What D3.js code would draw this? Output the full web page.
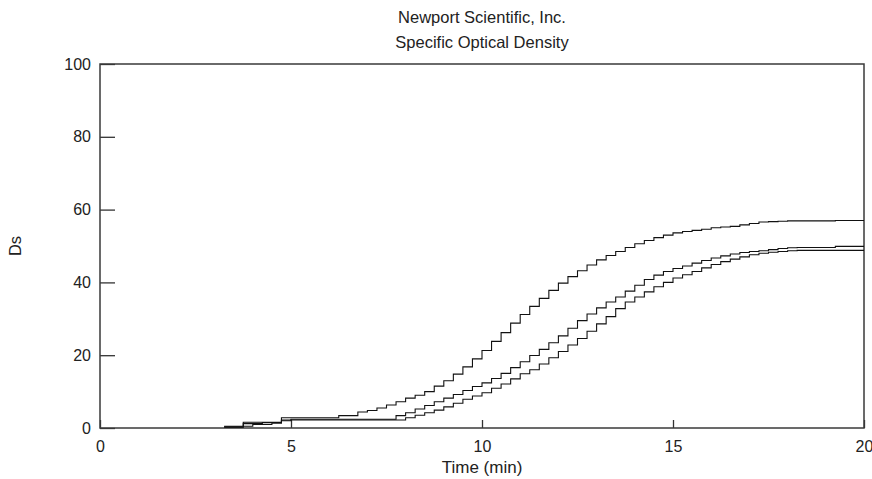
<!DOCTYPE html>
<html>
<head>
<meta charset="utf-8">
<script src="https://cdn.jsdelivr.net/npm/d3@7"></script>
<style>
  body { margin: 0; background: #fff; }
  text { font-family: "Liberation Sans", Arial, sans-serif; fill: #222; }
</style>
</head>
<body>
<script>
// chart size
var width = 872;
var height = 479;
var margin = {left: 100, right: 8, top: 64, bottom: 51};

// titles
var titleLines = ["Newport Scientific, Inc.", "Specific Optical Density"];
var xLabel = "Time (min)";
var yLabel = "Ds";

// ticks
var xTicks = [0, 5, 10, 15, 20];
var yTicks = [0, 20, 40, 60, 80, 100];

// sample times (min), read every quarter minute
var times = [3.25, 3.5, 3.75, 4, 4.25, 4.5, 4.75, 5, 5.25, 5.5, 5.75, 6, 6.25, 6.5, 6.75,
  7, 7.25, 7.5, 7.75, 8, 8.25, 8.5, 8.75, 9, 9.25, 9.5, 9.75, 10, 10.25, 10.5, 10.75,
  11, 11.25, 11.5, 11.75, 12, 12.25, 12.5, 12.75, 13, 13.25, 13.5, 13.75, 14, 14.25, 14.5, 14.75,
  15, 15.25, 15.5, 15.75, 16, 16.25, 16.5, 16.75, 17, 17.25, 17.5, 17.75, 18, 18.25, 18.5, 18.75,
  19, 19.25, 19.5, 19.75, 20];

// Ds of the three test runs
var runA = [0.5, 0.5, 1.6, 1.6, 1.6, 1.6, 2.8, 2.8, 2.8, 2.8, 2.8, 2.8, 3.4, 3.4, 4.4,
  4.8, 5.5, 6.3, 7.2, 8.2, 9.0, 10.0, 11.5, 13.0, 14.8, 16.8, 19.0, 21.3, 23.8, 26.2, 28.8,
  31.2, 33.4, 35.6, 37.8, 39.8, 41.6, 43.2, 44.8, 46.2, 47.4, 48.5, 49.6, 50.6, 51.5, 52.3, 53.0,
  53.6, 54.0, 54.3, 54.6, 55.0, 55.2, 55.4, 55.8, 56.2, 56.6, 56.7, 56.8, 56.9, 56.9, 56.9, 56.9,
  56.9, 57.0, 57.0, 57.0, 57.0];
var runB = [0.3, 0.3, 1.2, 1.2, 1.5, 1.5, 2.2, 2.4, 2.4, 2.4, 2.4, 2.4, 2.4, 2.4, 2.4,
  2.4, 2.4, 2.4, 3.4, 4.2, 5.2, 6.2, 7.2, 8.2, 9.2, 10.3, 11.4, 12.4, 13.6, 15.0, 16.6,
  18.2, 19.9, 21.6, 23.4, 25.3, 27.4, 29.5, 31.3, 33.0, 34.6, 36.0, 37.6, 39.2, 40.8, 42.0, 43.0,
  43.8, 44.5, 45.3, 46.0, 46.7, 47.3, 47.8, 48.2, 48.5, 48.7, 49.0, 49.3, 49.5, 49.6, 49.6, 49.6,
  49.6, 49.9, 49.9, 49.9, 49.9];
var runC = [0.2, 0.2, 0.5, 1.0, 1.0, 1.3, 2.0, 2.2, 2.2, 2.2, 2.2, 2.2, 2.2, 2.2, 2.2,
  2.2, 2.2, 2.2, 2.2, 2.8, 3.5, 4.2, 4.9, 5.8, 6.8, 7.9, 8.8, 9.7, 10.9, 12.1, 13.5,
  14.9, 16.0, 17.6, 19.3, 21.0, 22.8, 24.6, 26.6, 28.6, 30.6, 32.8, 34.6, 36.0, 37.4, 38.8, 40.0,
  41.2, 42.1, 43.0, 44.0, 44.9, 45.7, 46.4, 47.0, 47.6, 48.0, 48.3, 48.5, 48.7, 48.8, 48.8, 48.8,
  48.8, 48.8, 48.8, 48.8, 48.8];

var runs = [runA, runB, runC];

var svg = d3.select("body").append("svg")
  .attr("width", width).attr("height", height);

var w = width - margin.left - margin.right;
var h = height - margin.top - margin.bottom;

var chartGroup = svg.append("g")
  .attr("transform", "translate(" + margin.left + "," + margin.top + ")");

var x = d3.scaleLinear().domain([0, 20]).range([0, w]);
var y = d3.scaleLinear().domain([0, 100]).range([h, 0]);

// axes, ticks pointing inward
var xAxis = d3.axisBottom(x).tickValues(xTicks).tickSize(-8).tickPadding(13);
var yAxis = d3.axisLeft(y).tickValues(yTicks).tickSize(-15).tickPadding(9);

var gx = chartGroup.append("g")
  .attr("transform", "translate(0," + h + ")")
  .call(xAxis);
var gy = chartGroup.append("g").call(yAxis);

[gx, gy].forEach(function(g){
  g.select(".domain").remove();
  g.selectAll("line").attr("stroke", "#333").attr("stroke-width", 1.3);
  g.selectAll("text").style("font-size", "16px").attr("fill", "#222");
});

// frame
chartGroup.append("rect")
  .attr("width", w).attr("height", h)
  .attr("fill", "none").attr("stroke", "#3a3a3a").attr("stroke-width", 1.5);

// step traces
var line = d3.line()
  .x(function(d){ return x(d[0]); })
  .y(function(d){ return y(d[1]); })
  .curve(d3.curveStepAfter);

runs.forEach(function(r){
  chartGroup.append("path")
    .attr("d", line(times.map(function(t, i){ return [t, r[i]]; })))
    .attr("fill", "none")
    .attr("stroke", "#111")
    .attr("stroke-width", 1.1);
});

// titles
titleLines.forEach(function(s, i){
  svg.append("text")
    .attr("x", margin.left + w / 2)
    .attr("y", 17 + i * 25)
    .attr("dy", "0.35em")
    .attr("text-anchor", "middle")
    .style("font-size", "16.5px")
    .text(s);
});

svg.append("text")
  .attr("x", margin.left + w / 2)
  .attr("y", 473)
  .attr("text-anchor", "middle")
  .style("font-size", "17px")
  .text(xLabel);

svg.append("text")
  .attr("transform", "translate(21," + (margin.top + h / 2) + ") rotate(-90)")
  .attr("text-anchor", "middle")
  .style("font-size", "16.5px")
  .text(yLabel);
</script>
</body>
</html>
